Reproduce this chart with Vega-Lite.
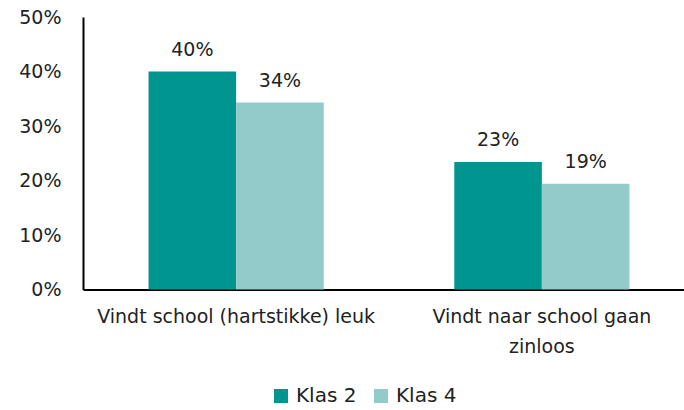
{
  "$schema": "https://vega.github.io/schema/vega-lite/v6.json",
  "width": 601,
  "height": 272.5,
  "autosize": {"type": "none"},
  "padding": {"left": 83, "top": 17, "right": 0, "bottom": 120.5},
  "background": "white",
  "config": {
    "view": {"stroke": null},
    "font": "DejaVu Sans",
    "text": {"font": "DejaVu Sans"}
  },
  "data": {
    "values": [
      {"categorie": "Vindt school (hartstikke) leuk", "klas": "Klas 2", "waarde": 0.40},
      {"categorie": "Vindt school (hartstikke) leuk", "klas": "Klas 4", "waarde": 0.343},
      {"categorie": "Vindt naar school gaan zinloos", "klas": "Klas 2", "waarde": 0.234},
      {"categorie": "Vindt naar school gaan zinloos", "klas": "Klas 4", "waarde": 0.194}
    ]
  },
  "encoding": {
    "x": {
      "field": "categorie",
      "type": "nominal",
      "sort": null,
      "scale": {"range": [0, 612], "paddingInner": 0.427, "paddingOuter": 0.2144},
      "axis": {
        "title": null,
        "labelAngle": 0,
        "ticks": false,
        "domainColor": "#000000",
        "domainWidth": 2,
        "labelFontSize": 19,
        "labelColor": "#222222",
        "labelPadding": 18,
        "labelLineHeight": 30,
        "labelBaseline": "top",
        "labelLimit": 400,
        "labelExpr": "datum.value == 'Vindt naar school gaan zinloos' ? ['Vindt naar school gaan', 'zinloos'] : datum.label"
      }
    },
    "xOffset": {"field": "klas", "type": "nominal", "sort": ["Klas 2", "Klas 4"], "scale": {"paddingInner": 0, "paddingOuter": 0}},
    "y": {
      "field": "waarde",
      "type": "quantitative",
      "scale": {"domain": [0, 0.5], "nice": false},
      "axis": {
        "title": null,
        "format": ".0%",
        "values": [0, 0.1, 0.2, 0.3, 0.4, 0.5],
        "grid": false,
        "ticks": false,
        "domainColor": "#000000",
        "domainWidth": 2,
        "labelFontSize": 19,
        "labelColor": "#222222",
        "labelPadding": 22
      }
    }
  },
  "layer": [
    {
      "mark": {"type": "bar"},
      "encoding": {
        "color": {
          "field": "klas",
          "type": "nominal",
          "scale": {"domain": ["Klas 2", "Klas 4"], "range": ["#00968F", "#93CBCB"]},
          "legend": {
            "title": null,
            "orient": "none",
            "direction": "horizontal",
            "legendX": 188,
            "legendY": 369,
            "symbolType": "square",
            "symbolSize": 196,
            "symbolStrokeWidth": 0,
            "labelFontSize": 20,
            "labelColor": "#222222",
            "labelOffset": 5,
            "columnPadding": 14
          }
        }
      }
    },
    {
      "mark": {"type": "text", "baseline": "alphabetic", "dy": -16, "fontSize": 19, "color": "#222222"},
      "encoding": {
        "text": {"field": "waarde", "type": "quantitative", "format": ".0%"}
      }
    }
  ]
}
